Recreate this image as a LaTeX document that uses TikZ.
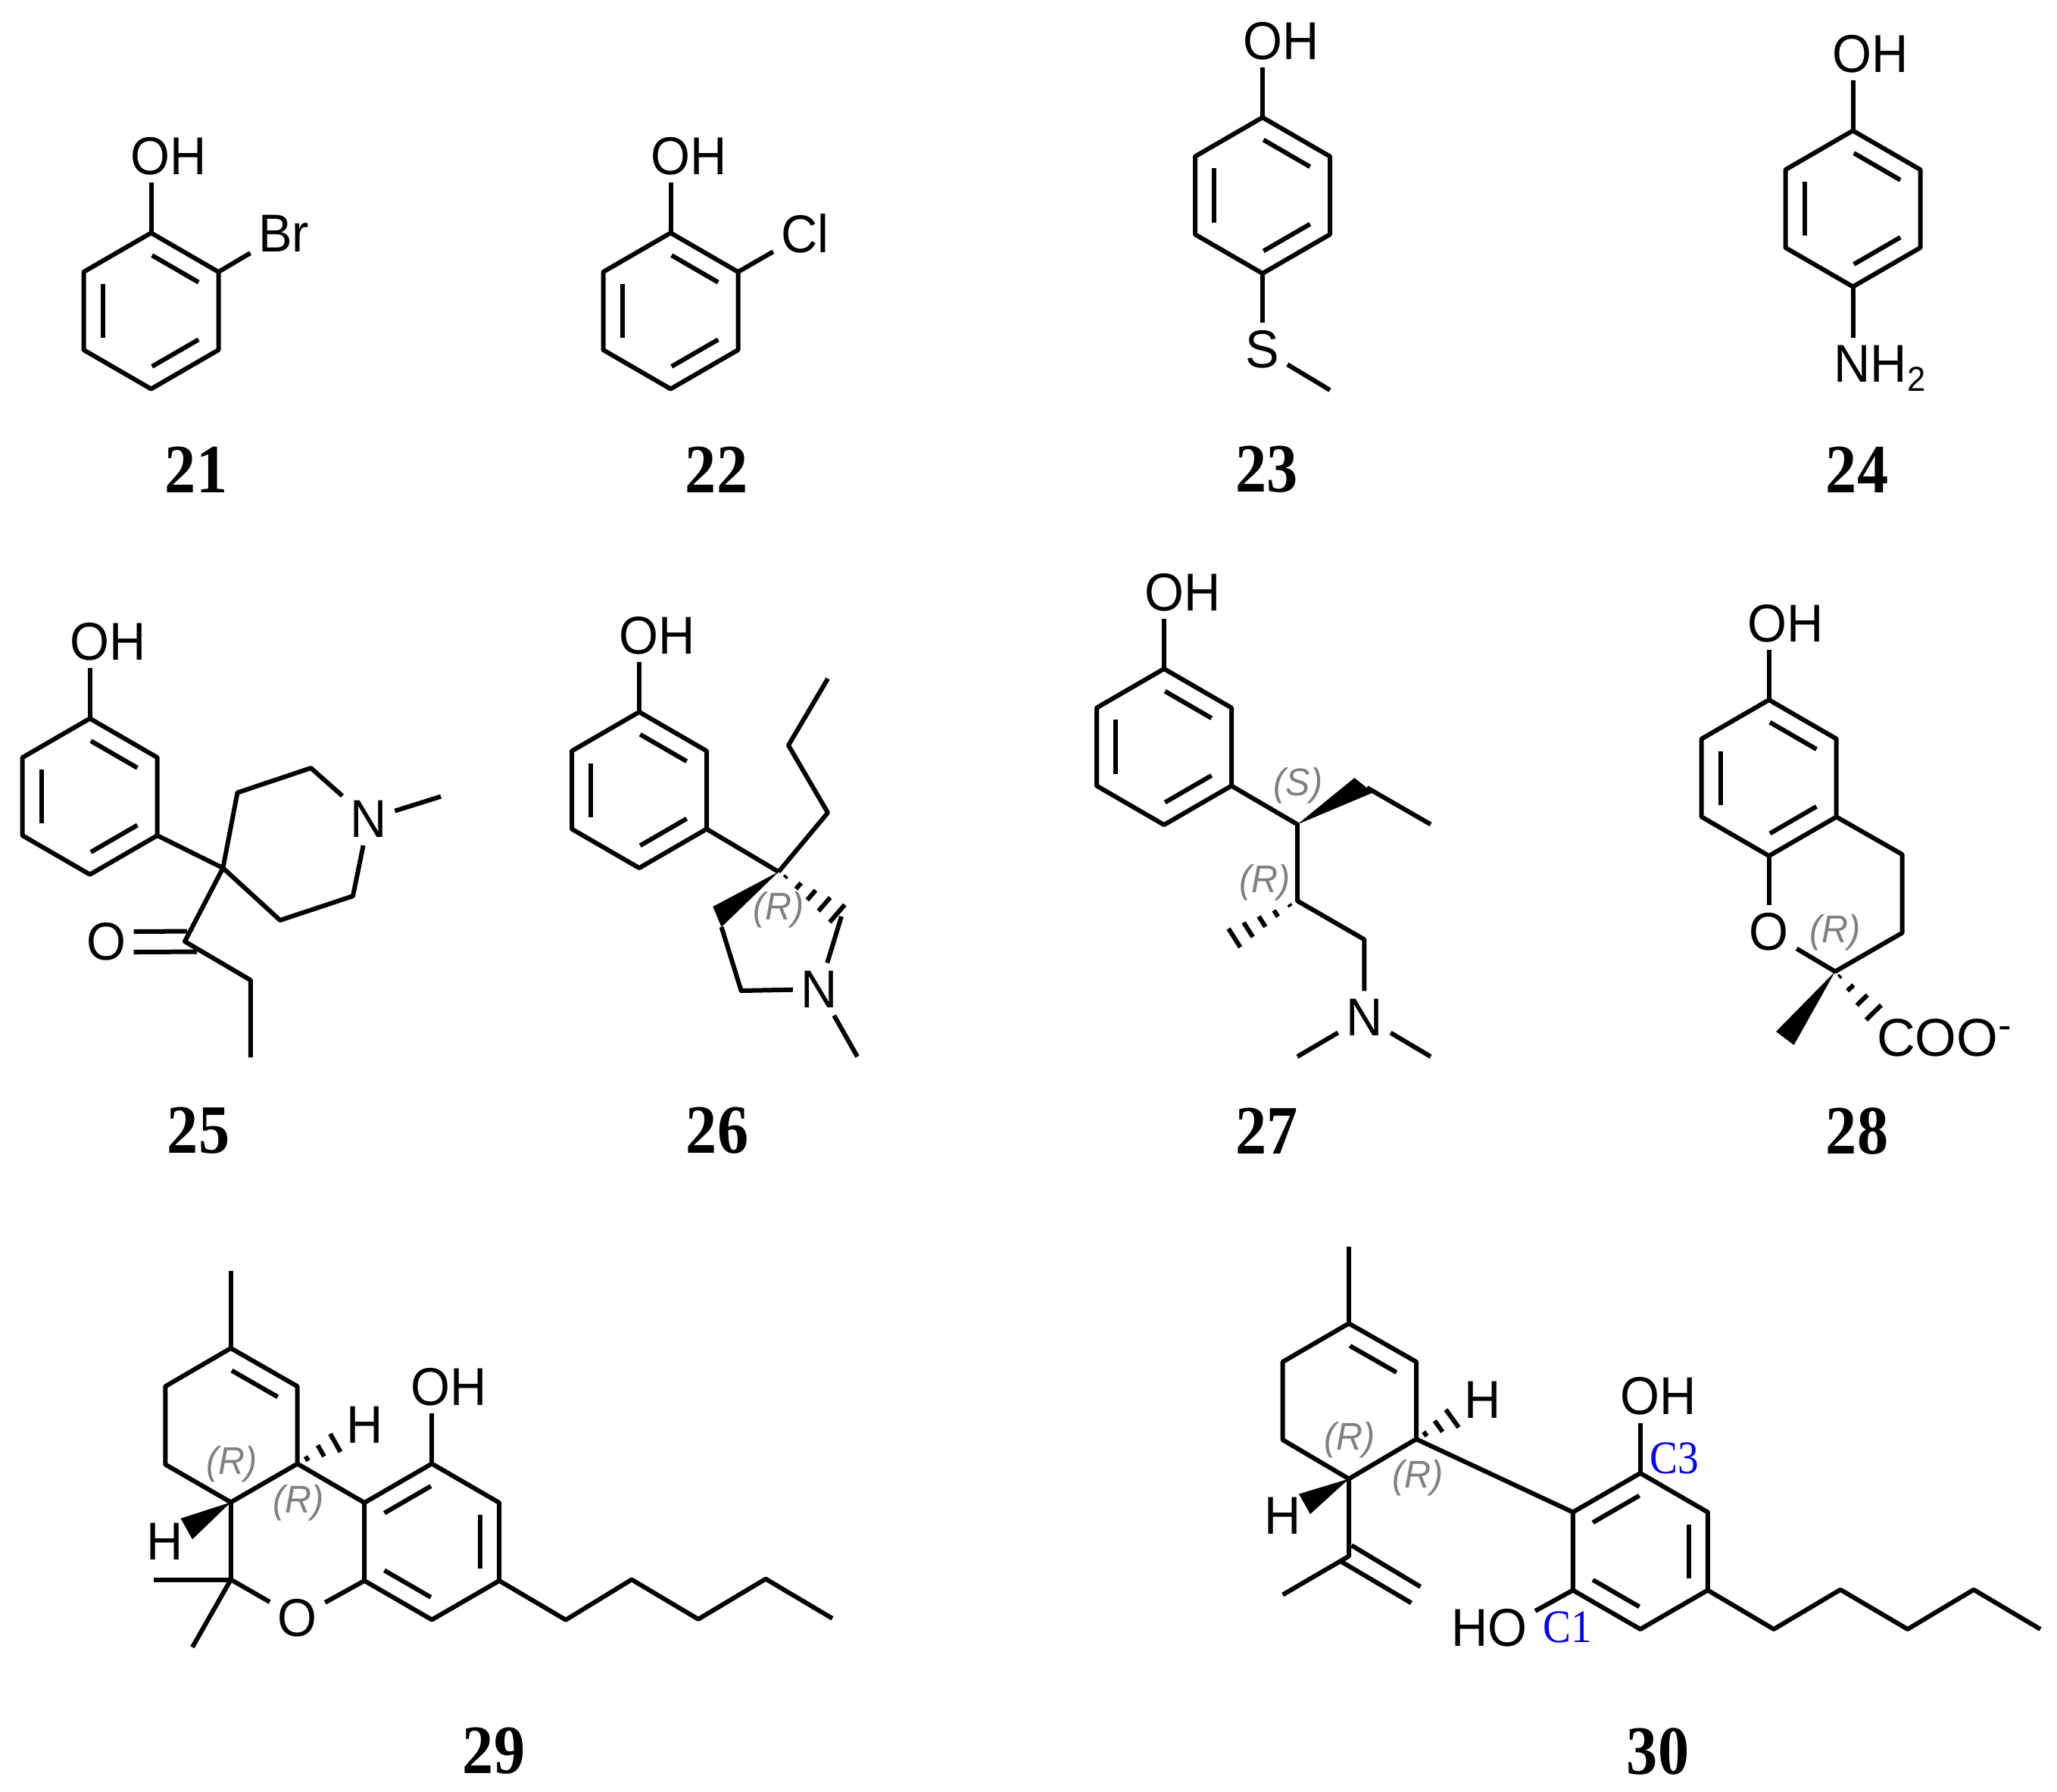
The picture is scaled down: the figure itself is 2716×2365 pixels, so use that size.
\documentclass[tikz,border=0pt]{standalone}
\usepackage{fontspec}
\usepackage{tikz}
\usetikzlibrary{calc}
\setmainfont[FakeStretch=0.95]{Liberation Sans}
\newfontfamily\plainsans{Liberation Sans}
\newfontfamily\timesfam[FakeStretch=0.9]{Liberation Serif}
\tikzset{
    bond/.style={line width=0.06cm,line join=round},
    atom/.style={font=\fontsize{20}{20}\selectfont,inner sep=2.8pt},
    num/.style={font=\timesfam\bfseries\fontsize{26}{26}\selectfont,inner sep=0pt},
    chir/.style={font=\itshape\fontsize{14.5}{14.5}\selectfont,text=black!50,inner sep=0pt},
    site/.style={font=\timesfam\fontsize{17.5}{17.5}\selectfont,text=blue,inner sep=0pt},
}
\newcommand{\ringat}[3]{
    \coordinate (#1a) at (#2,#3-103);
    \coordinate (#1b) at (#2+89,#3-51.5);
    \coordinate (#1c) at (#2+89,#3+51.5);
    \coordinate (#1d) at (#2,#3+103);
    \coordinate (#1e) at (#2-89,#3+51.5);
    \coordinate (#1f) at (#2-89,#3-51.5);
    \draw[bond] (#1a)--(#1b)--(#1c)--(#1d)--(#1e)--(#1f)--cycle;
}
\newcommand{\inb}[2]{\draw[bond] ($(#1)!0.155!(#2)!0.25cm!-90:(#2)$) -- ($(#1)!0.845!(#2)!0.25cm!-90:(#2)$);}
\newcommand{\wedgeb}[3]{\fill (#1) -- (#2) -- (#3) -- cycle;}
\newcommand{\hashb}[4]{\foreach \hs in {#4}{\draw[bond] ($(#1)!\hs!(#2)$) -- ($(#1)!\hs!(#3)$);}}
\begin{document}
\begin{tikzpicture}[x=0.01cm,y=-0.01cm]
    \useasboundingbox (0,0) rectangle (2716,2365);

    \ringat{r21}{199.5}{410.5}
    \inb{r21a}{r21b} \inb{r21c}{r21d} \inb{r21e}{r21f}
    \node[atom] (oh21) at (222.5,206) {OH};
    \node[atom] (br21) at (374.5,308) {Br};
    \draw[bond] (r21a) -- (r21a |- oh21.south);
    \draw[bond] (r21b) -- (br21);
    \node[num] (n21) at (259,620) {21};

    \ringat{r22}{885.5}{410.5}
    \inb{r22a}{r22b} \inb{r22c}{r22d} \inb{r22e}{r22f}
    \node[atom] (oh22) at (909.4,206) {OH};
    \node[atom] (cl22) at (1063,308) {Cl};
    \draw[bond] (r22a) -- (r22a |- oh22.south);
    \draw[bond] (r22b) -- (cl22);
    \node[num] (n22) at (946,620) {22};

    \ringat{r23}{1667}{258}
    \inb{r23a}{r23b} \inb{r23c}{r23d} \inb{r23e}{r23f}
    \node[atom] (oh23) at (1691.8,54) {OH};
    \node[atom] (s23) at (1667,461.5) {S};
    \coordinate (me23) at (1756,515);
    \draw[bond] (r23a) -- (r23a |- oh23.south);
    \draw[bond] (r23d) -- (s23);
    \draw[bond] (s23) -- (me23);
    \node[num] (n23) at (1672.5,620) {23};

    \ringat{r24}{2446.5}{275.5}
    \inb{r24a}{r24b} \inb{r24c}{r24d} \inb{r24e}{r24f}
    \node[atom] (oh24) at (2470,71) {OH};
    \node[atom,anchor=base west] (nh24) at (2411,504.5) {NH\raisebox{-3.3pt}{\fontsize{13}{13}\selectfont 2}};
    \draw[bond] (r24a) -- (r24a |- oh24.south);
    \draw[bond] (r24d) -- (r24d |- nh24.north);
    \node[num] (n24) at (2452,620) {24};

    \ringat{r25}{118.7}{1051.6}
    \inb{r25a}{r25b} \inb{r25c}{r25d} \inb{r25e}{r25f}
    \node[atom] (oh25) at (142.5,847) {OH};
    \node[atom] (n25a) at (486.7,1081.5) {N};
    \node[atom] (o25) at (140,1243.5) {O};
    \coordinate (q25) at (294.4,1146);
    \coordinate (p25a) at (313.5,1046.5);
    \coordinate (p25b) at (410.5,1014);
    \coordinate (p25c) at (466,1183);
    \coordinate (p25d) at (369.8,1215);
    \coordinate (me25) at (582,1051.6);
    \coordinate (co25) at (244,1243);
    \coordinate (et25a) at (330.8,1294);
    \coordinate (et25b) at (330.8,1396);
    \draw[bond] (r25a) -- (r25a |- oh25.south);
    \draw[bond] (r25c) -- (q25);
    \draw[bond] (q25) -- (p25a) -- (p25b) -- (n25a);
    \draw[bond] (n25a) -- (p25c) -- (p25d) -- (q25);
    \draw[bond] (n25a) -- (me25);
    \draw[bond] (q25) -- (co25) -- (et25a) -- (et25b);
    \draw[bond] ($(o25.east)+(0,-13.5)$) -- ($(co25)+(3,-13.5)$);
    \draw[bond] ($(o25.east)+(0,13.5)$) -- ($(co25)+(16,13.5)$);
    \node[num] (n25) at (262,1493) {25};

    \ringat{r26}{844}{1043}
    \inb{r26a}{r26b} \inb{r26c}{r26d} \inb{r26e}{r26f}
    \node[atom] (oh26) at (868,839) {OH};
    \node[atom] (n26a) at (1081.6,1306) {N};
    \coordinate (q26) at (1028,1151);
    \coordinate (pr26a) at (1093,1073);
    \coordinate (pr26b) at (1041,984);
    \coordinate (pr26c) at (1093,896);
    \coordinate (w26a) at (941.3,1197);
    \coordinate (w26b) at (952.6,1224);
    \coordinate (m26) at (978.6,1308);
    \coordinate (h26a) at (1115.4,1194.5);
    \coordinate (h26b) at (1095.5,1217.5);
    \coordinate (h26c) at (1111,1210);
    \coordinate (me26) at (1132,1395);
    \draw[bond] (r26a) -- (r26a |- oh26.south);
    \draw[bond] (r26c) -- (q26);
    \draw[bond] (q26) -- (pr26a) -- (pr26b) -- (pr26c);
    \wedgeb{q26}{w26a}{w26b}
    \hashb{q26}{h26a}{h26b}{0.12,0.34,0.56,0.78,1}
    \draw[bond] (w26b) -- (m26) -- (n26a);
    \draw[bond] (h26c) -- (n26a);
    \draw[bond] (n26a) -- (me26);
    \node[chir] (st26) at (1028,1201) {(R)};
    \node[num] (n26) at (947,1493) {26};

    \ringat{r27}{1537}{986}
    \inb{r27a}{r27b} \inb{r27c}{r27d} \inb{r27e}{r27f}
    \node[atom] (oh27) at (1561.6,782) {OH};
    \node[atom] (n27a) at (1801.4,1343) {N};
    \coordinate (c27a) at (1713,1088.4);
    \coordinate (c27b) at (1713,1189.4);
    \coordinate (c27c) at (1801.4,1240.4);
    \coordinate (w27a) at (1788.4,1027);
    \coordinate (w27b) at (1812.7,1046.5);
    \coordinate (w27c) at (1805,1040);
    \coordinate (et27) at (1889,1088.4);
    \coordinate (h27a) at (1622,1226);
    \coordinate (h27b) at (1637.7,1250.6);
    \coordinate (me27a) at (1713,1395);
    \coordinate (me27b) at (1889,1395);
    \draw[bond] (r27a) -- (r27a |- oh27.south);
    \draw[bond] (r27c) -- (c27a) -- (c27b) -- (c27c) -- (n27a);
    \wedgeb{c27a}{w27a}{w27b}
    \draw[bond] (w27c) -- (et27);
    \hashb{c27b}{h27a}{h27b}{0.12,0.34,0.56,0.78,1}
    \draw[bond] (n27a) -- (me27a);
    \draw[bond] (n27a) -- (me27b);
    \node[chir] (st27a) at (1714,1037) {(S)};
    \node[chir] (st27b) at (1669.8,1165) {(R)};
    \node[num] (n27) at (1672.5,1493) {27};

    \ringat{r28}{2335.7}{1027}
    \inb{r28a}{r28b} \inb{r28c}{r28d} \inb{r28e}{r28f}
    \node[atom] (oh28) at (2358,823) {OH};
    \node[atom] (o28) at (2335.7,1230.7) {O};
    \node[atom,anchor=base west,font=\plainsans\fontsize{20}{20}\selectfont] (coo28) at (2467.5,1394) {COO\raisebox{6.3pt}{\fontsize{15}{15}\selectfont -}};
    \coordinate (c28a) at (2511.5,1128);
    \coordinate (c28b) at (2511.5,1231.7);
    \coordinate (c28c) at (2423,1282.7);
    \coordinate (w28a) at (2345,1362);
    \coordinate (w28b) at (2368.6,1379.7);
    \coordinate (h28a) at (2483.8,1327);
    \coordinate (h28b) at (2463.9,1346.5);
    \draw[bond] (r28a) -- (r28a |- oh28.south);
    \draw[bond] (r28c) -- (c28a) -- (c28b) -- (c28c) -- (o28);
    \draw[bond] (r28d) -- (o28);
    \wedgeb{c28c}{w28a}{w28b}
    \hashb{c28c}{h28a}{h28b}{0.12,0.4,0.7,1}
    \node[chir] (st28) at (2423,1231) {(R)};
    \node[num] (n28) at (2452,1493) {28};

    \coordinate (a29a) at (304.8,1780);
    \coordinate (a29b) at (392.7,1830.4);
    \coordinate (a29c) at (392.7,1932.6);
    \coordinate (a29d) at (304.8,1983.4);
    \coordinate (a29e) at (218.3,1933.5);
    \coordinate (a29f) at (218.3,1830.4);
    \coordinate (me29) at (304.8,1678.4);
    \draw[bond] (a29a)--(a29b)--(a29c)--(a29d)--(a29e)--(a29f)--cycle;
    \inb{a29a}{a29b}
    \draw[bond] (a29a) -- (me29);
    \ringat{r29}{570.2}{2035.5}
    \inb{r29f}{r29a} \inb{r29b}{r29c} \inb{r29d}{r29e}
    \node[atom] (oh29) at (592.8,1831) {OH};
    \node[atom] (o29) at (392.7,2136) {O};
    \node[atom] (h29a) at (482,1881.7) {H};
    \node[atom] (h29b) at (217.6,2035) {H};
    \coordinate (g29) at (304.8,2085.5);
    \coordinate (me29a) at (202.8,2085.5);
    \coordinate (me29b) at (254,2174.8);
    \coordinate (w29a) at (238.6,2004.8);
    \coordinate (w29b) at (254,2032.3);
    \coordinate (s29a) at (436,1893);
    \coordinate (s29b) at (449.5,1917);
    \coordinate (t29a) at (747,2138.7);
    \coordinate (t29b) at (834,2085.5);
    \coordinate (t29c) at (922,2137.8);
    \coordinate (t29d) at (1011,2084.6);
    \coordinate (t29e) at (1099,2136.8);
    \draw[bond] (r29a) -- (r29a |- oh29.south);
    \draw[bond] (a29c) -- (r29f);
    \draw[bond] (a29d) -- (g29) -- (o29) -- (r29e);
    \draw[bond] (g29) -- (me29a);
    \draw[bond] (g29) -- (me29b);
    \wedgeb{a29d}{w29a}{w29b}
    \hashb{a29c}{s29a}{s29b}{0.25,0.62,1}
    \draw[bond] (r29c) -- (t29a) -- (t29b) -- (t29c) -- (t29d) -- (t29e);
    \node[chir] (st29a) at (306,1933) {(R)};
    \node[chir] (st29b) at (393.7,1984) {(R)};
    \node[num] (n29) at (652,2312) {29};

    \coordinate (a30a) at (1781,1747.3);
    \coordinate (a30b) at (1870,1798);
    \coordinate (a30c) at (1870,1900);
    \coordinate (a30d) at (1781,1952.5);
    \coordinate (a30e) at (1693.7,1901);
    \coordinate (a30f) at (1693.7,1798);
    \coordinate (me30) at (1781,1646);
    \draw[bond] (a30a)--(a30b)--(a30c)--(a30d)--(a30e)--(a30f)--cycle;
    \inb{a30a}{a30b}
    \draw[bond] (a30a) -- (me30);
    \ringat{r30}{2165.8}{2048}
    \inb{r30f}{r30a} \inb{r30b}{r30c} \inb{r30d}{r30e}
    \node[atom] (oh30) at (2190,1843.7) {OH};
    \node[atom] (ho30) at (1966.4,2149) {HO};
    \node[atom] (h30a) at (1957.7,1848.5) {H};
    \node[atom] (h30b) at (1693.7,2001.4) {H};
    \coordinate (v30) at (1781,2054.6);
    \coordinate (me30a) at (1693.7,2105.5);
    \coordinate (v30a) at (1784.6,2040.4);
    \coordinate (v30b) at (1875.5,2095);
    \coordinate (v30c) at (1771,2061.8);
    \coordinate (v30d) at (1863.4,2116.4);
    \coordinate (w30a) at (1715,1972.5);
    \coordinate (w30b) at (1730,1999);
    \coordinate (s30a) at (1909,1861);
    \coordinate (s30b) at (1926,1884.6);
    \coordinate (t30a) at (2342,2151);
    \coordinate (t30b) at (2430,2098.8);
    \coordinate (t30c) at (2518.7,2151);
    \coordinate (t30d) at (2606,2098.8);
    \coordinate (t30e) at (2694,2151);
    \draw[bond] (r30a) -- (r30a |- oh30.south);
    \draw[bond] (r30e) -- (ho30.20);
    \draw[bond] (a30c) -- (r30f);
    \draw[bond] (a30d) -- (v30) -- (me30a);
    \draw[bond] (v30a) -- (v30b);
    \draw[bond] (v30c) -- (v30d);
    \wedgeb{a30d}{w30a}{w30b}
    \hashb{a30c}{s30a}{s30b}{0.25,0.62,1}
    \draw[bond] (r30c) -- (t30a) -- (t30b) -- (t30c) -- (t30d) -- (t30e);
    \node[chir] (st30a) at (1782,1901) {(R)};
    \node[chir] (st30b) at (1872,1951.6) {(R)};
    \node[site] (c3) at (2211,1925) {C3};
    \node[site] (c1) at (2069.5,2148.7) {C1};
    \node[num] (n30) at (2189,2312) {30};
\end{tikzpicture}
\end{document}
